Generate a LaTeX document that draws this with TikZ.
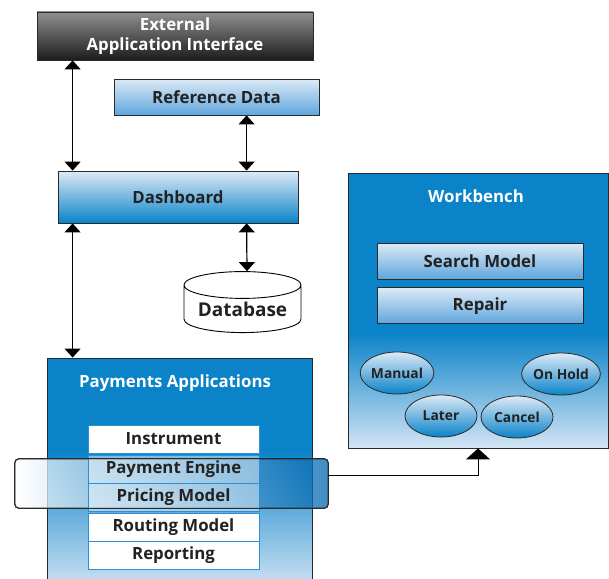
\documentclass[tikz,border=0pt]{standalone}
\usepackage{fontspec}
\setsansfont{Open Sans}
\usepackage{tikz}
\usetikzlibrary{arrows.meta,positioning,shapes.geometric}
\definecolor{dellblue}{HTML}{0A83C9}
\definecolor{paletop}{HTML}{DDEAF6}
\definecolor{palebottom}{HTML}{5FA5DC}
\definecolor{panellow}{HTML}{D3E4F4}
\definecolor{greytop}{HTML}{909090}
\definecolor{greybottom}{HTML}{1C1C1C}
\definecolor{edge}{HTML}{2A2A2A}
\definecolor{listline}{HTML}{2A8FD6}
\definecolor{ink}{HTML}{222222}
\definecolor{bandblue}{HTML}{0068B0}
\pgfdeclareverticalshading{wbfade}{100bp}{color(0bp)=(panellow); color(25bp)=(panellow); color(46bp)=(dellblue); color(100bp)=(dellblue)}
\pgfdeclareverticalshading{payfade}{100bp}{color(0bp)=(panellow); color(25bp)=(panellow); color(55bp)=(dellblue); color(100bp)=(dellblue)}

\begin{document}
\begin{tikzpicture}[x=1pt,y=-1pt,<->,>={Triangle[width=16pt,length=9pt]},line width=1.2pt,
  font=\sffamily\bfseries\fontsize{16.8}{20}\selectfont,
  darkbox/.style={draw=edge,line width=0.8pt,top color=greytop,bottom color=greybottom,text=white,align=center},
  palebox/.style={draw=edge,line width=0.8pt,top color=paletop,bottom color=palebottom,text=ink},
  bluebox/.style={draw=edge,line width=0.8pt,top color=paletop,bottom color=dellblue,text=ink},
  panel/.style={draw=edge,line width=0.8pt},
  paneltitle/.style={text=white},
  listbox/.style={draw=listline,line width=0.9pt,fill=white,text=ink,minimum width=171pt,minimum height=28pt,outer sep=0pt},
  seethrough/.style={fill opacity=0.45,text opacity=1},
  band/.style={draw=edge,line width=0.8pt,rounded corners=4pt,left color=white,right color=bandblue,fill opacity=0.75},
  status/.style={ellipse,draw=edge,line width=0.8pt,top color=paletop,bottom color=dellblue,text=ink,minimum width=72pt,minimum height=42pt,inner sep=0pt,font=\sffamily\bfseries\fontsize{13.8}{15}\selectfont},
  dbstyle/.style={cylinder,shape border rotate=90,aspect=0.3,draw=black,line width=0.9pt,fill=white,text=ink,minimum width=117pt,minimum height=61pt,inner sep=0pt,font=\sffamily\bfseries\fontsize{19}{22}\selectfont}]

  \useasboundingbox (0,0) rectangle (609,578);

  \node[darkbox,minimum width=276pt,minimum height=48pt]	(ext) at (175,36)	{External\\Application Interface};
  \node[palebox,minimum width=205pt,minimum height=36pt]	(refdata) at (216.5,97)	{Reference Data};
  \node[bluebox,minimum width=240pt,minimum height=52pt]	(dashboard) at (178,197)	{Dashboard};
  \node[dbstyle]						(database) at (242.5,309)	{Database};

  \node[panel,shading=payfade,minimum width=265pt,minimum height=232pt]	(payments) at (179.5,474) {};
  \node[paneltitle]					(paytitle) at (175,383)	{Payments Applications};
  \node[listbox]					(instrument) at (173.5,439)	{Instrument};
  \node[band,minimum width=313pt,minimum height=49pt]	(highlight) at (171.5,483.5) {};
  \node[listbox,seethrough,below=2pt of instrument]	(engine)	{Payment Engine};
  \node[listbox,seethrough,below=0pt of engine]		(pricing)	{Pricing Model};
  \node[listbox,below=2pt of pricing]		(routing)	{Routing Model};
  \node[listbox,below=0pt of routing]		(reporting)	{Reporting};
  \draw[draw=edge,line width=0.8pt,rounded corners=4pt] (highlight.north west) rectangle (highlight.south east);

  \node[panel,shading=wbfade,minimum width=260pt,minimum height=275pt]	(workbench) at (478,310.5) {};
  \node[paneltitle]					(wbtitle) at (476,196)	{Workbench};
  \node[palebox,minimum width=206pt,minimum height=36pt]	(search) at (480,261)	{Search Model};
  \node[palebox,minimum width=206pt,minimum height=36pt,below=8pt of search]	(repair)	{Repair};
  \node[status]						(manual) at (397,373)	{Manual};
  \node[status]						(onhold) at (561,374)	{On Hold};
  \node[status]						(later) at (441,416)	{Later};
  \node[status]						(cancel) at (517,417)	{Cancel};

  \path ([xshift=36pt]ext.south west) edge ([xshift=15pt]dashboard.north west)
	([xshift=133pt]refdata.south west) edge ([xshift=189pt]dashboard.north west)
	([xshift=15pt]dashboard.south west) edge ([xshift=26pt]payments.north west)
	([xshift=189pt]dashboard.south west) edge ([xshift=4.5pt]database.north);
  \draw[-{Triangle[width=24pt,length=11pt]},line width=0.9pt] ([yshift=8.5pt]highlight.east) -| (workbench.south);
\end{tikzpicture}
\end{document}
